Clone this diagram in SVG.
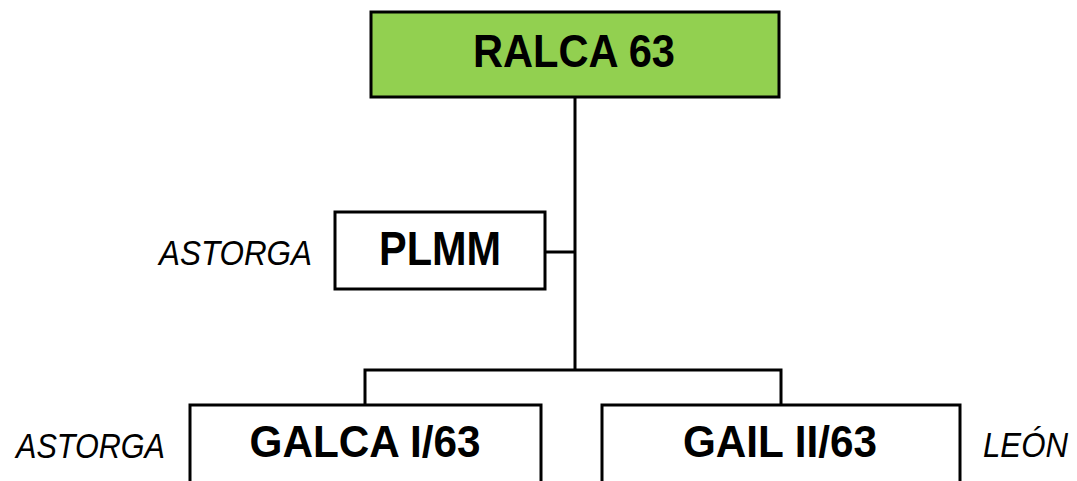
<svg xmlns="http://www.w3.org/2000/svg" width="1077" height="481" viewBox="0 0 1077 481">
<style>
.box{fill:#ffffff;stroke:#000000;stroke-width:3}
.top{fill:#92D050;stroke:#000000;stroke-width:3}
.name{font-family:"Liberation Sans",Arial,sans-serif;font-weight:bold;font-size:47px;fill:#000;text-anchor:middle}
.loc{font-family:"Liberation Sans",Arial,sans-serif;font-style:italic;font-size:35px;fill:#000}
.conn{fill:none;stroke:#000000;stroke-width:3}
</style>
<rect width="1077" height="481" fill="#ffffff"/>
<g id="connectors">
<path class="conn" d="M575,97 V370"/>
<path class="conn" d="M545,252 H575"/>
<path class="conn" d="M365,405 V370 H781 V405"/>
</g>
<g id="ralca">
<rect class="top" x="371" y="12" width="408" height="85"/>
<text class="name" x="574" y="67" textLength="202" lengthAdjust="spacingAndGlyphs">RALCA 63</text>
</g>
<g id="plmm">
<rect class="box" x="335" y="212" width="210" height="77"/>
<text class="name" x="440" y="265" style="font-size:48px" textLength="122" lengthAdjust="spacingAndGlyphs">PLMM</text>
<text class="loc" x="159" y="265" textLength="153" lengthAdjust="spacingAndGlyphs">ASTORGA</text>
</g>
<g id="galca">
<rect class="box" x="190" y="405" width="351" height="90"/>
<text class="name" x="365" y="457" style="font-size:45px" textLength="231" lengthAdjust="spacingAndGlyphs">GALCA I/63</text>
<text class="loc" x="16" y="458" textLength="149" lengthAdjust="spacingAndGlyphs">ASTORGA</text>
</g>
<g id="gail">
<rect class="box" x="602" y="405" width="358" height="90"/>
<text class="name" x="780" y="457" style="font-size:45px" textLength="194" lengthAdjust="spacingAndGlyphs">GAIL II/63</text>
<text class="loc" x="983" y="457" textLength="85" lengthAdjust="spacingAndGlyphs">LEÓN</text>
</g>
</svg>
